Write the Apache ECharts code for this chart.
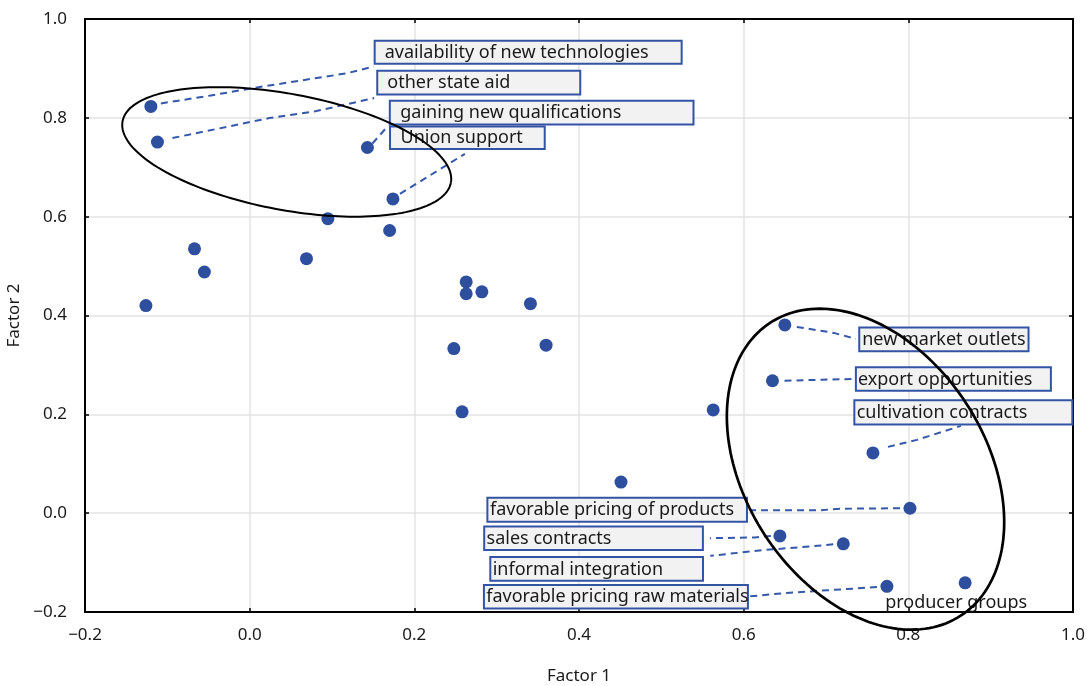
<!DOCTYPE html>
<html><head><meta charset="utf-8">
<script src="https://cdn.jsdelivr.net/npm/echarts@6/dist/echarts.min.js"></script>
<style>html,body{margin:0;padding:0;background:#fff}#c{width:1087px;height:686px}</style>
</head><body><div id="c"></div>
<script>
// ---- data (factor loadings) ----
const factor1 = [-0.120, -0.112, 0.143, 0.174, 0.095, 0.170, -0.067, -0.055, 0.069, -0.126,
                 0.263, 0.263, 0.282, 0.341, 0.248, 0.360, 0.258, 0.563, 0.451,
                 0.650, 0.635, 0.757, 0.802, 0.644, 0.721, 0.774, 0.869];
const factor2 = [0.823, 0.751, 0.740, 0.636, 0.596, 0.572, 0.535, 0.488, 0.515, 0.420,
                 0.468, 0.444, 0.448, 0.424, 0.333, 0.340, 0.205, 0.209, 0.063,
                 0.381, 0.268, 0.122, 0.010, -0.046, -0.062, -0.148, -0.141];
const labelIndex = [0, 1, 3, 2, 19, 20, 21, 22, 23, 24, 25, 26];
const labelText = ['availability of new technologies', 'other state aid', 'Union support',
  'gaining new qualifications', 'new market outlets', 'export opportunities',
  'cultivation contracts', 'favorable pricing of products', 'sales contracts',
  'informal integration', 'favorable pricing raw materials', 'producer groups'];
const xTicks = [-0.2, 0.0, 0.2, 0.4, 0.6, 0.8, 1.0];
const yTicks = [-0.2, 0.0, 0.2, 0.4, 0.6, 0.8, 1.0];
const ellipseCenterX = [0.045, 0.748];
const ellipseCenterY = [0.731, 0.089];

// ---- layout (pixels, relative to the labelled point) ----
const labelLayout = [
  {box:[222.8,-66.7,309,25], pad:11, path:[[10,-3],[60,-11],[100,-18],[150,-26],[195,-33],[223,-40]]},
  {box:[218.8,-72.3,205,25.7], pad:11, path:[[15,-4],[112,-24],[159,-31],[216.7,-44]]},
  {box:[-3.9,-73.3,156.7,24.3], pad:11.5, path:[[7,-5],[72,-45]]},
  {box:[21.4,-47.7,305.7,25.7], pad:11.5, path:[[5,-4],[21,-22]]},
  {box:[73.4,1.7,171.3,25.6], pad:4, path:[[12,2],[49,8],[71,14]]},
  {box:[82.4,-14.4,197,25.4], pad:3, path:[[12,0],[50,-1],[81,-1.7]]},
  {box:[-19.6,-53.6,220,26.3], pad:3.3, path:[[15,-6],[44,-13],[88,-27]]},
  {box:[-423.6,-11.4,261.6,26], pad:3.6, path:[[-10,0],[-70,0.5],[-90,2],[-159,2]]},
  {box:[-296.7,-10.3,220.7,25.3], pad:3.4, path:[[-9,0],[-25,1.5],[-70,2.3]]},
  {box:[-354,12.3,214.7,25.7], pad:3.4, path:[[-10,0.5],[-33,2.7],[-77,6],[-133,12]]},
  {box:[-404,-2.4,266,25.7], pad:3.3, path:[[-10,0.8],[-60,4],[-100,6.6],[-137,10]]},
  {text:[-80,19.7]}
];
const ellipseShape = [{a:167, b:58, rot:10.6, lw:2}, {a:174.7, b:120.3, rot:57, lw:2.7}];

const FONT = '"Noto Sans", "DejaVu Sans", sans-serif';
// fit label font to the reference width of the longest label
const mctx = document.createElement('canvas').getContext('2d');
mctx.font = '100px ' + FONT;
const labelFontSize = Math.round(100 * 261 / mctx.measureText(labelText[0]).width * 2) / 2;

const BLUE = '#2d4f9e';
const LEADER = '#3458aa';
const fmt = v => (Math.round(v * 10) / 10).toFixed(1).replace('-', '\u2212');

const chart = echarts.init(document.getElementById('c'), null, {renderer: 'canvas'});
const axisCommon = {
  type: 'value', min: -0.2, max: 1.0, interval: 0.2,
  axisLine: {show: true, onZero: false, lineStyle: {color: '#000', width: 2}},
  axisTick: {show: true, inside: true, length: 4, lineStyle: {color: '#000', width: 1.5}},
};
chart.setOption({
  animation: false,
  grid: {left: 85, right: 14, top: 19, bottom: 74, show: true, borderColor: '#000', borderWidth: 2,
         containLabel: false, outerBoundsMode: 'none'},
  xAxis: [
    Object.assign({}, axisCommon, {
      position: 'bottom', name: 'Factor 1', nameLocation: 'middle', nameGap: 56,
      nameTextStyle: {fontFamily: FONT, fontSize: 17, color: '#1a1a1a'},
      axisLabel: {fontFamily: FONT, fontSize: 17, color: '#1a1a1a', margin: 15,
        formatter: v => xTicks.some(t => Math.abs(t - v) < 1e-6) ? fmt(v) : ''},
      splitLine: {show: true, lineStyle: {color: '#e3e3e3', width: 1.5}}
    }),
    Object.assign({}, axisCommon, {position: 'top', axisLabel: {show: false}, splitLine: {show: false}})
  ],
  yAxis: [
    Object.assign({}, axisCommon, {
      position: 'left', name: 'Factor 2', nameLocation: 'middle', nameGap: 54,
      nameTextStyle: {fontFamily: FONT, fontSize: 17, color: '#1a1a1a'},
      axisLabel: {fontFamily: FONT, fontSize: 17, color: '#1a1a1a', margin: 18,
        formatter: v => yTicks.some(t => Math.abs(t - v) < 1e-6) ? fmt(v) : ''},
      splitLine: {show: true, lineStyle: {color: '#e3e3e3', width: 1.5}}
    }),
    Object.assign({}, axisCommon, {position: 'right', axisLabel: {show: false}, splitLine: {show: false}})
  ],
  series: [
    {
      type: 'custom', name: 'labels', z: 3, clip: false,
      data: labelIndex.map(i => [factor1[i], factor2[i]]),
      renderItem: function (params, api) {
        const p = api.coord([api.value(0), api.value(1)]);
        const L = labelLayout[params.dataIndex];
        const t = labelText[params.dataIndex];
        const children = [];
        if (L.text) {
          children.push({type: 'text', x: p[0] + L.text[0], y: p[1] + L.text[1],
            style: {text: t, fill: '#1a1a1a', font: labelFontSize + 'px ' + FONT, verticalAlign: 'middle', align: 'left'}});
          return {type: 'group', children};
        }
        children.push({type: 'polyline',
          shape: {points: L.path.map(q => [p[0] + q[0], p[1] + q[1]])},
          style: {stroke: LEADER, lineWidth: 2, lineDash: [7, 5], fill: null}});
        const bx = p[0] + L.box[0], by = p[1] + L.box[1];
        children.push({type: 'rect',
          shape: {x: bx + 1, y: by + 1, width: L.box[2] - 2, height: L.box[3] - 2},
          style: {fill: '#f2f2f2', stroke: '#3353a5', lineWidth: 2}});
        children.push({type: 'text', x: bx + L.pad, y: by + L.box[3] / 2 + 0.5,
          style: {text: t, fill: '#1a1a1a', font: labelFontSize + 'px ' + FONT, verticalAlign: 'middle', align: 'left'}});
        return {type: 'group', children};
      }
    },
    {
      type: 'scatter', name: 'loadings', z: 4,
      symbolSize: 13,
      itemStyle: {color: BLUE, opacity: 1},
      data: factor1.map((x, i) => [x, factor2[i]])
    },
    {
      type: 'custom', name: 'groups', z: 5, clip: false,
      data: ellipseCenterX.map((x, i) => [x, ellipseCenterY[i]]),
      renderItem: function (params, api) {
        const c = api.coord([api.value(0), api.value(1)]);
        const e = ellipseShape[params.dataIndex];
        const th = e.rot * Math.PI / 180, ct = Math.cos(th), st = Math.sin(th);
        const pts = [];
        for (let k = 0; k <= 180; k++) {
          const t = k / 180 * 2 * Math.PI;
          const u = e.a * Math.cos(t), v = e.b * Math.sin(t);
          pts.push([c[0] + u * ct - v * st, c[1] + u * st + v * ct]);
        }
        return {type: 'polyline', shape: {points: pts},
          style: {stroke: '#000', lineWidth: e.lw, fill: null}};
      }
    }
  ]
});
</script></body></html>
